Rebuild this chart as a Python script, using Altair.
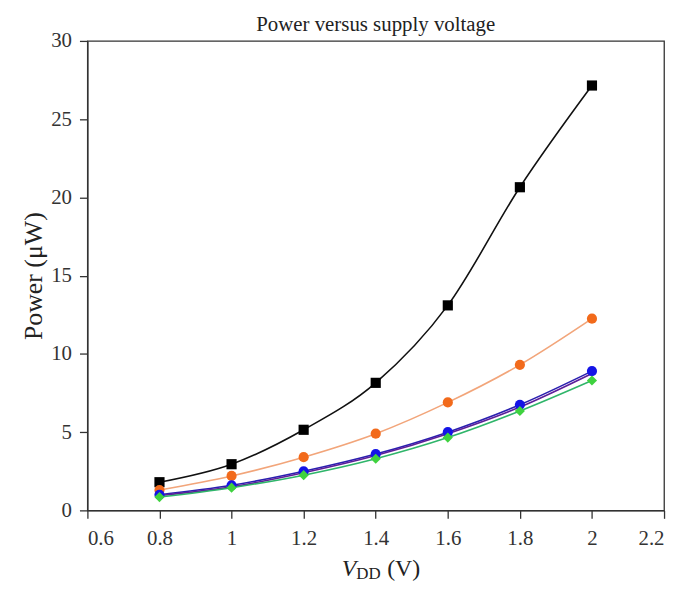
import altair as alt
import pandas as pd

vdd = [0.8, 1.0, 1.2, 1.4, 1.6, 1.8, 2.0]
series_names = ["black", "orange", "blue", "purple", "green"]
black = [1.8, 2.95, 5.15, 8.15, 13.1, 20.65, 27.15]
orange = [1.3, 2.2, 3.4, 4.9, 6.9, 9.3, 12.25]
blue = [1.0, 1.6, 2.5, 3.6, 5.0, 6.75, 8.9]
purple = [0.95, 1.5, 2.4, 3.5, 4.9, 6.6, 8.75]
green = [0.85, 1.45, 2.25, 3.3, 4.65, 6.35, 8.3]

line_colors = ["#111111", "#f2a57a", "#2a1fb0", "#5b1e9a", "#2fb56a"]
marker_colors = ["#000000", "#f26a1b", "#1414e6", "#5b1e9a", "#3fd23f"]
marker_shapes = ["square", "circle", "circle", "circle", "diamond"]
order = [0, 1, 2, 3, 4]

rows = []
for name, vals, o in zip(series_names, [black, orange, blue, purple, green], order):
    for x, y in zip(vdd, vals):
        rows.append({"series": name, "vdd": x, "power": y, "ord": o})
df = pd.DataFrame(rows)

FONT = "Liberation Serif"
W, H = 581, 473

xenc = alt.X("vdd:Q", scale=alt.Scale(domain=[0.6, 2.2], nice=False),
             axis=alt.Axis(values=[0.6, 0.8, 1.0, 1.2, 1.4, 1.6, 1.8, 2.0, 2.2],
                           labelExpr="datum.value == 1 ? '1' : datum.value == 2 ? '2' : format(datum.value, '.1f')",
                           title=None, grid=False, tickSize=8, labelPadding=9))
yenc = alt.Y("power:Q", scale=alt.Scale(domain=[0, 30], nice=False),
             axis=alt.Axis(values=[0, 5, 10, 15, 20, 25, 30], title="Power (μW)",
                           grid=False, tickSize=8, labelPadding=8, titlePadding=4))

lines = alt.Chart(df).mark_line(interpolate="monotone", strokeWidth=1.6).encode(
    x=xenc, y=yenc,
    color=alt.Color("series:N", scale=alt.Scale(domain=series_names, range=line_colors), legend=None),
    order=alt.Order("ord:Q"),
)

pts = alt.Chart(df).transform_filter(alt.datum.series != "purple").mark_point(
    filled=True, size=105, opacity=1).encode(
    x=xenc, y=yenc,
    color=alt.Color("series:N", scale=alt.Scale(domain=series_names, range=marker_colors), legend=None),
    shape=alt.Shape("series:N", scale=alt.Scale(domain=series_names, range=marker_shapes), legend=None),
    order=alt.Order("ord:Q"),
)

one = pd.DataFrame({"k": [0]})
tV = alt.Chart(one).mark_text(text="V", font=FONT, fontSize=24, fontStyle="italic",
                              align="right", baseline="alphabetic", color="#222").encode(
    x=alt.value(271), y=alt.value(539))
tDD = alt.Chart(one).mark_text(text="DD", font=FONT, fontSize=17,
                               align="left", baseline="alphabetic", color="#222").encode(
    x=alt.value(271), y=alt.value(542))
tV2 = alt.Chart(one).mark_text(text="(V)", font=FONT, fontSize=24,
                               align="left", baseline="alphabetic", color="#222").encode(
    x=alt.value(302), y=alt.value(539))

chart = alt.layer(lines, pts, tV, tDD, tV2).resolve_scale(color="independent").properties(
    width=W, height=H,
    title=alt.TitleParams("Power versus supply voltage", font=FONT, fontSize=21,
                          fontWeight="normal", color="#222", anchor="middle", offset=-5),
    autosize=alt.AutoSizeParams(type="none"),
    padding={"left": 80, "top": 31, "right": 6, "bottom": 70},
).configure_view(stroke="#333", strokeWidth=1.3).configure_axis(
    labelFont=FONT, labelFontSize=21, labelColor="#333",
    titleFont=FONT, titleFontSize=26, titleFontWeight="normal", titleColor="#222",
    domainColor="#333", tickColor="#333", domainWidth=1.3, tickWidth=1.3,
)

chart.save("out.html", embed_options={"renderer": "svg", "actions": False})
